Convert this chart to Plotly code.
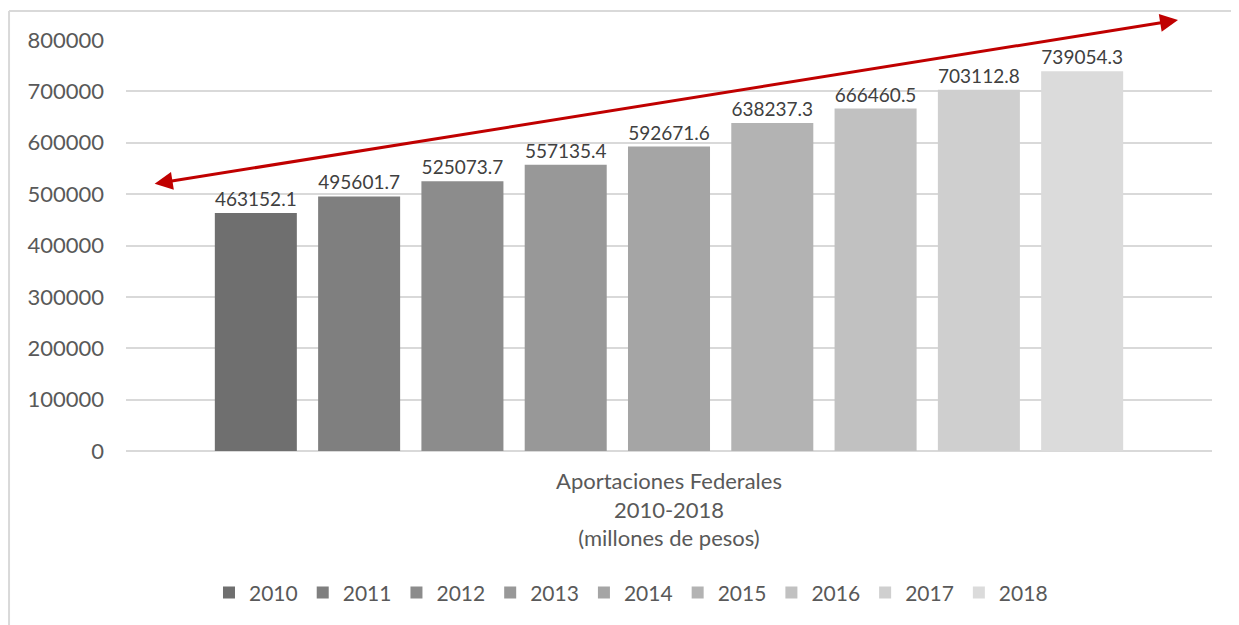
import plotly.graph_objects as go

category = "Aportaciones Federales<br>2010-2018<br>(millones de pesos)"
years = ["2010", "2011", "2012", "2013", "2014", "2015", "2016", "2017", "2018"]
values = [463152.1, 495601.7, 525073.7, 557135.4, 592671.6, 638237.3, 666460.5, 703112.8, 739054.3]
colors = ["#6f6f6f", "#7f7f7f", "#8c8c8c", "#989898", "#a5a5a5", "#b3b3b3", "#c1c1c1", "#cfcfcf", "#dbdbdb"]

FONT = "Lato"
TXT = "#595959"

fig = go.Figure()
for yr, v, c in zip(years, values, colors):
    fig.add_trace(go.Bar(
        x=[category], y=[v], name=yr, marker=dict(color=c, line=dict(width=0)),
        text=[f"{v:.1f}"], textposition="outside", cliponaxis=False,
        textfont=dict(family=FONT, size=19, color="#404040"),
    ))

fig.update_layout(
    width=1231, height=617,
    margin=dict(l=118, r=27, t=32, b=174),
    paper_bgcolor="white", plot_bgcolor="white",
    barmode="group", bargap=0.144, bargroupgap=0.206,
    font=dict(family=FONT, color=TXT),
    showlegend=True,
    legend=dict(orientation="h", x=0.465, xanchor="center", y=-0.345, yanchor="middle",
                font=dict(family=FONT, size=21, color=TXT), itemwidth=30,
                traceorder="normal"),
    xaxis=dict(showgrid=False, showline=False, ticks="", ticklabelstandoff=15,
               tickfont=dict(family=FONT, size=22, color=TXT)),
    yaxis=dict(range=[0, 800000], dtick=100000, tickformat="d",
               showgrid=True, gridcolor="#d9d9d9", gridwidth=1.5,
               zeroline=True, zerolinecolor="#d9d9d9", zerolinewidth=1.5,
               showline=False, ticks="", ticklabelstandoff=21,
               tickfont=dict(family=FONT, size=22, color=TXT)),
)

# chart border (left and top edges visible in frame)
fig.add_shape(type="line", xref="paper", yref="paper",
              x0=-0.1077, x1=-0.1077, y0=-0.6, y1=1.0706,
              line=dict(color="#d9d9d9", width=2), layer="below")
fig.add_shape(type="line", xref="paper", yref="paper",
              x0=-0.1077, x1=1.2, y0=1.0706, y1=1.0706,
              line=dict(color="#d9d9d9", width=2), layer="below")

# double-headed trend arrow
fig.add_annotation(
    x=0.4687, y=838929, xref="x", yref="y",
    ax=-0.475, ay=519708, axref="x", ayref="y",
    text="", showarrow=True, arrowhead=2, startarrowhead=2,
    arrowside="end+start", arrowsize=1.2, arrowwidth=3, arrowcolor="#c00000",
)

fig.write_html("out.html")
